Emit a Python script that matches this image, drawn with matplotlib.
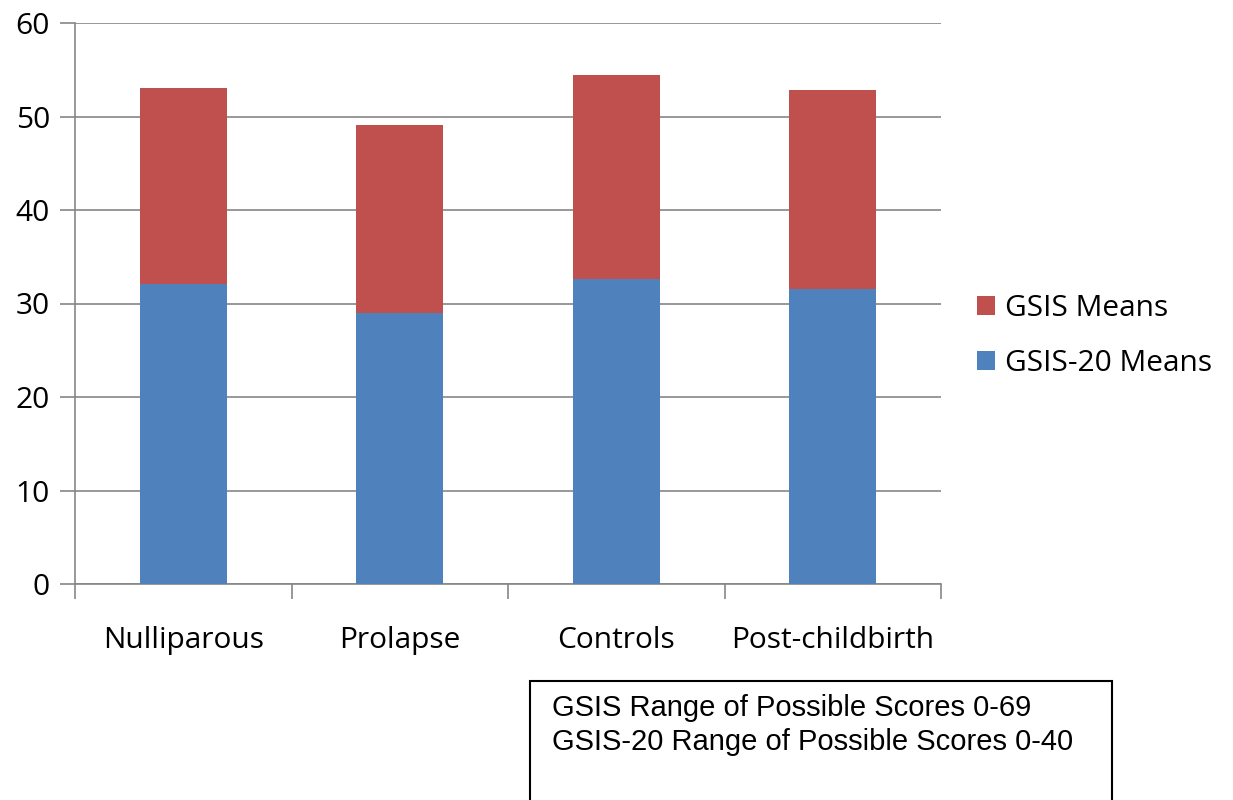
import matplotlib
matplotlib.use("Agg")
import matplotlib.pyplot as plt
from matplotlib.patches import Rectangle
import numpy as np

categories = ["Nulliparous", "Prolapse", "Controls", "Post-childbirth"]
gsis20_means = [32.1, 29.0, 32.6, 31.6]
gsis_totals = [53.1, 49.1, 54.4, 52.8]
gsis_means = [t - b for t, b in zip(gsis_totals, gsis20_means)]
y_ticks = [0, 10, 20, 30, 40, 50, 60]
note_lines = ["GSIS Range of Possible Scores 0-69",
              "GSIS-20 Range of Possible Scores 0-40"]

BLUE = "#4F81BD"
RED = "#C0504D"
GRID = "#868686"
FONT = "Open Sans"

fig = plt.figure(figsize=(12.33, 8), dpi=100)
ax = fig.add_axes([75 / 1233, 1 - 584 / 800, (941 - 75) / 1233, (584 - 23) / 800])

x = np.arange(len(categories))
ax.bar(x, gsis20_means, width=0.4, color=BLUE, label="GSIS-20 Means", zorder=3)
ax.bar(x, gsis_means, width=0.4, bottom=gsis20_means, color=RED,
       label="GSIS Means", zorder=3)

ax.set_xlim(-0.5, len(categories) - 0.5)
ax.set_ylim(0, 60)
ax.set_yticks(y_ticks)
ax.yaxis.grid(True, color=GRID, linewidth=1.2, zorder=0)
for s in ["top", "right"]:
    ax.spines[s].set_visible(False)
for s in ["left", "bottom"]:
    ax.spines[s].set_color(GRID)
    ax.spines[s].set_linewidth(1.2)

# category labels centred, tick marks at category boundaries
ax.set_xticks(x)
ax.set_xticklabels(categories, fontsize=21.5, family=FONT)
ax.tick_params(axis="x", length=0, pad=30)
ax.set_xticks(np.arange(-0.5, len(categories)), minor=True)
ax.tick_params(axis="x", which="minor", length=11, color=GRID, width=1.2)
ax.tick_params(axis="y", length=11, color=GRID, width=1.2, pad=7,
               labelsize=21.5)
for lbl in ax.get_yticklabels():
    lbl.set_family(FONT)

handles, labels = ax.get_legend_handles_labels()
fig.legend(handles[::-1], labels[::-1], loc="center left",
           bbox_to_anchor=(950 / 1233, 1 - 336 / 800), frameon=False,
           prop={"family": FONT, "size": 21.5}, handlelength=0.6,
           handleheight=0.6, handletextpad=0.35, labelspacing=0.85)

# note box
fig.patches.append(Rectangle((530 / 1233, -0.05), (1112 - 530) / 1233,
                             1 - 681 / 800 + 0.05, transform=fig.transFigure,
                             fill=False, edgecolor="black", linewidth=1.5))
for i, line in enumerate(note_lines):
    fig.text(552 / 1233, 1 - (708 + 34 * i) / 800, line,
             family="Liberation Sans", fontsize=21, va="center", ha="left")

fig.savefig("out.png", dpi=100)
